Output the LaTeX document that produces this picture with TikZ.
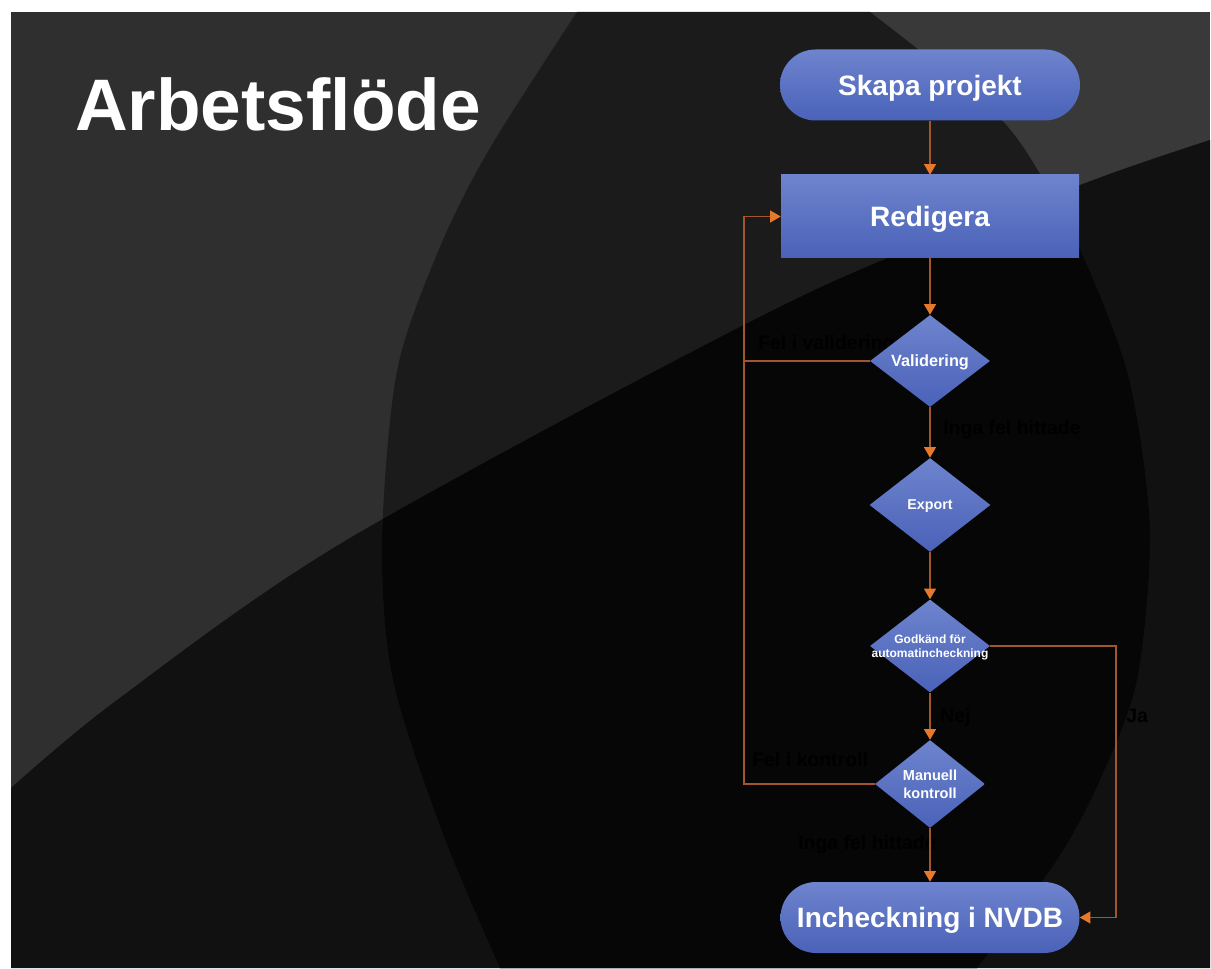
\documentclass[tikz,border=0pt]{standalone}
\usepackage{fontspec}
\setmainfont{Liberation Sans}
\usetikzlibrary{shapes.geometric,shapes.misc,arrows.meta}
\definecolor{bgA}{HTML}{2F2F2F}
\definecolor{bgB}{HTML}{393939}
\definecolor{bgLow}{HTML}{111111}
\definecolor{bgIn}{HTML}{1B1B1B}
\definecolor{bgInLow}{HTML}{060606}
\definecolor{blueTop}{HTML}{6E84CE}
\definecolor{blueBot}{HTML}{4A62B8}
\definecolor{lineC}{HTML}{A4552B}
\definecolor{tipC}{HTML}{E8792B}
\tikzset{
  term/.style={rounded rectangle, inner sep=0pt, top color=blueTop, bottom color=blueBot,
    text=white, text depth=0pt, font=\bfseries\fontsize{21}{25}\selectfont},
  procbox/.style={rectangle, inner sep=0pt, top color=blueTop, bottom color=blueBot,
    text=white, text depth=0pt, font=\bfseries\fontsize{21}{25}\selectfont},
  dec/.style={diamond, inner sep=0pt, top color=blueTop, bottom color=blueBot},
  dectext/.style={text=white, align=center, inner sep=0pt, text depth=0pt},
  conn/.style={draw=lineC, line width=1pt},
  tip/.style={-{Triangle[width=9pt,length=8pt,color=tipC,fill=tipC]}},
  lbl/.style={anchor=base west, inner sep=0pt, text=black, font=\bfseries\fontsize{14.6}{17}\selectfont}
}
\def\lenspath{plot[smooth] coordinates {(500,968) (443,834) (393,680) (382,544) (397,371) (440,247) (490,148) (577,12)}
  -- plot[smooth] coordinates {(870,12) (993,111) (1043,179) (1090,272) (1130,383) (1150,531) (1137,680) (1100,780) (1057,860) (977,968)} -- cycle}
\def\lowpath{plot[smooth] coordinates {(11,788) (117,700) (350,538) (800,297) (1080,185) (1210,140)}
  -- (1210,968) -- (11,968) -- cycle}
\begin{document}
\begin{tikzpicture}[x=0.75pt,y=-0.75pt]
\useasboundingbox (0,0) rectangle (1211,969);
\fill[white] (0,0) rectangle (1211,969);
% background
\fill[bgA] (11,12) rectangle (1210,968);
\fill[bgB] (860,12) rectangle (1210,968);
\fill[bgLow] \lowpath;
\fill[bgIn] \lenspath;
\begin{scope}
\clip \lenspath;
\fill[bgInLow] \lowpath;
\end{scope}

% title
\node[anchor=base west, inner sep=0pt, text=white, font=\bfseries\fontsize{54.75}{60}\selectfont] (title) at (75,131) {Arbetsflöde};

% connector labels (drawn beneath the shapes)
\node[lbl] (lvalid) at (758,350) {Fel i validering};
\node[lbl] (linga1) at (943,435) {Inga fel hittade};
\node[lbl] (lnej) at (940,722) {Nej};
\node[lbl] (lja) at (1126,722) {Ja};
\node[lbl] (lkontroll) at (752,766) {Fel i kontroll};
\node[lbl] (linga2) at (798,849) {Inga fel hittade};

% shapes
\node[term, minimum width=225pt, minimum height=53.25pt] (skapa) at (930,85) {Skapa projekt};
\node[procbox, minimum width=223.5pt, minimum height=62.25pt] (redigera) at (930,216.5) {Redigera};
\node[dec, minimum width=90pt, minimum height=69pt,
  label={[dectext, font=\bfseries\fontsize{12.2}{14}\selectfont]center:Validering}] (valid) at (930,361) {};
\node[dec, minimum width=90.75pt, minimum height=70.5pt,
  label={[dectext, font=\bfseries\fontsize{10.7}{13}\selectfont]center:Export}] (export) at (930,505) {};
\node[dec, minimum width=90pt, minimum height=69.75pt,
  label={[dectext, font=\bfseries\fontsize{9}{10.5}\selectfont]center:{Godkänd för\\automatincheckning}}] (godk) at (930,646) {};
\node[dec, minimum width=82.5pt, minimum height=66pt,
  label={[dectext, font=\bfseries\fontsize{10.9}{13.5}\selectfont]center:{Manuell\\kontroll}}] (manuell) at (930,784) {};
\node[term, minimum width=224.25pt, minimum height=53.25pt] (nvdb) at (930,917.5) {Incheckning i NVDB};

% helper points
\coordinate (lt) at (744,216.5);
\coordinate (lm) at (744,361);
\coordinate (ja) at (1116,646);

% connectors
\draw[conn,tip] (skapa.south) -- (redigera.north);
\draw[conn,tip] (redigera.south) -- (valid.north);
\draw[conn,tip] (valid.south) -- (export.north);
\draw[conn,tip] (export.south) -- (godk.north);
\draw[conn,tip] (godk.south) -- (manuell.north);
\draw[conn,tip] (manuell.south) -- (nvdb.north);
\draw[conn,tip] (valid.west) -| (lt) -- (redigera.west);
\draw[conn] (manuell.west) -| (lm);
\draw[conn,tip] (godk.east) -- (ja) |- (nvdb.east);
\end{tikzpicture}
\end{document}
